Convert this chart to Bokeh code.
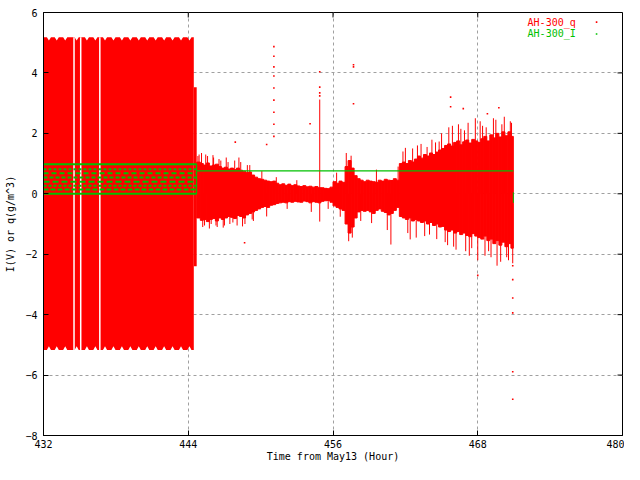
import numpy as np
from bokeh.plotting import figure
from bokeh.models import FixedTicker, Range1d, Label
from bokeh.embed import file_html
from bokeh.resources import INLINE

# ---------------- data ----------------
x_ticks = [432, 444, 456, 468, 480]
y_ticks = [-8, -6, -4, -2, 0, 2, 4, 6]

# AH-300_q : first period, saturated oscillation band
band_start = 432.0
band_end = 444.46
band_hi = 5.18
band_lo = -5.17
band_notch_hi = 5.07
band_notch_lo = -5.05
band_notch_t = [432.45, 433.1, 433.8, 434.75, 435.6, 436.3, 437.1, 437.8, 438.5,
                439.2, 439.9, 440.6, 441.3, 442.0, 442.7, 443.4, 444.1]
band_gap_t = [434.53, 435.085, 436.67]

# transition column
trans_t0 = [444.46]
trans_t1 = [444.70]
trans_hi = [3.53]
trans_lo = [-2.40]

# AH-300_q : core envelope after 444.7 h (bin start, hi, lo)
core_t = [444.70, 445.00, 445.25, 445.50, 445.75, 446.00, 446.25, 446.50, 446.75,
          447.00, 447.25, 447.50, 447.75, 448.00, 448.25, 448.50, 448.75, 449.00,
          449.25, 449.50, 449.75, 450.00, 450.25, 450.50, 450.75, 451.00, 451.25,
          451.50, 451.75, 452.00, 452.25, 452.50, 452.75, 453.00, 453.25, 453.50,
          453.75, 454.00, 454.25, 454.50, 454.75, 455.00, 455.25, 455.50, 455.75,
          456.00, 456.25, 456.50, 456.75, 457.00, 457.25, 457.50, 457.75, 458.00,
          458.25, 458.50, 458.75, 459.00, 459.25, 459.50, 459.75, 460.00, 460.25,
          460.50, 460.75, 461.00, 461.25, 461.50, 461.75, 462.00, 462.25, 462.50,
          462.75, 463.00, 463.25, 463.50, 463.75, 464.00, 464.25, 464.50, 464.75,
          465.00, 465.25, 465.50, 465.75, 466.00, 466.25, 466.50, 466.75, 467.00,
          467.25, 467.50, 467.75, 468.00, 468.25, 468.50, 468.75, 469.00, 469.25,
          469.50, 469.75, 470.00, 470.25, 470.50, 470.75]
core_hi = [1.05, 1.00, 0.95, 1.02, 0.92, 0.95, 0.98, 0.90, 0.85,
           0.88, 0.82, 0.85, 0.80, 0.85, 0.78, 0.75, 0.70, 0.72,
           0.62, 0.55, 0.50, 0.48, 0.45, 0.42, 0.40, 0.42, 0.35,
           0.30, 0.33, 0.28, 0.32, 0.27, 0.30, 0.26, 0.24, 0.27,
           0.23, 0.25, 0.22, 0.24, 0.20, 0.20, 0.18, 0.17, 0.22,
           0.40, 0.35, 0.42, 0.38, 0.90, 1.10, 0.85, 0.60, 0.50,
           0.45, 0.40, 0.45, 0.42, 0.40, 0.38, 0.45, 0.42, 0.48,
           0.45, 0.44, 0.50, 0.45, 1.00, 1.05, 1.00, 1.10, 1.05,
           1.15, 1.25, 1.18, 1.30, 1.25, 1.35, 1.30, 1.38, 1.45,
           1.50, 1.60, 1.65, 1.58, 1.70, 1.75, 1.62, 1.72, 1.78,
           1.68, 1.80, 1.75, 1.70, 1.82, 1.90, 1.75, 1.95, 1.85,
           2.00, 1.88, 2.05, 1.92, 2.05, 1.90]
core_lo = [-0.80, -0.88, -0.85, -0.92, -0.85, -0.82, -0.90, -0.80, -0.85,
           -0.80, -0.75, -0.78, -0.82, -0.72, -0.75, -0.80, -0.70, -0.65,
           -0.60, -0.55, -0.50, -0.45, -0.42, -0.45, -0.38, -0.36, -0.32,
           -0.30, -0.28, -0.30, -0.26, -0.28, -0.25, -0.27, -0.28, -0.24,
           -0.26, -0.30, -0.26, -0.28, -0.30, -0.25, -0.23, -0.22, -0.28,
           -0.40, -0.45, -0.50, -0.55, -1.00, -1.30, -1.10, -0.80, -0.60,
           -0.55, -0.58, -0.55, -0.60, -0.65, -0.55, -0.50, -0.58, -0.62,
           -0.70, -0.65, -0.55, -0.45, -0.75, -0.80, -0.85, -0.80, -0.90,
           -0.85, -0.90, -0.95, -0.90, -1.00, -0.95, -1.05, -1.00, -1.10,
           -1.08, -1.20, -1.25, -1.20, -1.30, -1.25, -1.35, -1.30, -1.38,
           -1.42, -1.32, -1.40, -1.45, -1.50, -1.40, -1.55, -1.50, -1.65,
           -1.55, -1.70, -1.60, -1.75, -1.65, -1.80]
core_end = 470.95

# AH-300_q : isolated spikes (time, tip value)
spike_t = [444.80, 444.90, 445.10, 445.20, 445.35, 445.45, 445.60, 445.75, 445.90,
           446.05, 446.10, 446.30, 446.40, 446.55, 446.70, 446.90, 447.00, 447.15,
           447.30, 447.45, 447.70, 447.85, 448.05, 448.20, 448.35, 448.50, 448.70,
           448.90, 449.10, 449.30, 449.40, 450.10, 450.50, 451.30, 452.20, 453.00,
           454.20, 454.90, 454.90, 455.60, 456.30, 456.60, 457.10, 457.30, 457.50,
           457.60, 458.30, 459.20, 459.60, 460.50, 460.80, 461.40, 461.80, 462.00,
           462.20, 462.40, 462.60, 462.90, 463.00, 463.30, 463.60, 463.80, 464.00,
           464.20, 464.50, 464.60, 464.80, 465.00, 465.30, 465.50, 465.60, 465.90,
           466.00, 466.20, 466.40, 466.60, 466.90, 467.00, 467.20, 467.30, 467.50,
           467.80, 468.00, 468.20, 468.40, 468.60, 468.70, 468.90, 469.10, 469.30,
           469.50, 469.60, 469.90, 470.00, 470.20, 470.40, 470.55, 470.70, 470.80,
           470.90]
spike_v = [1.25, 1.30, 1.35, -1.10, -1.05, 1.30, 1.25, -1.15, -1.00,
           1.28, 1.20, -1.05, -1.10, 1.15, 1.10, -1.12, -1.05, 1.20,
           1.05, -1.00, -0.95, 1.10, -1.05, 1.20, 1.05, -1.08, -1.00,
           0.95, 0.95, -0.85, -0.90, 0.75, -0.75, 0.55, -0.50, 0.45,
           -0.60, 3.12, -0.92, -0.50, 0.70, -0.76, 1.35, -1.57, 1.26,
           -1.45, -0.90, -0.97, 0.80, -1.20, -1.68, 0.90, 1.40, 1.52,
           -1.30, -1.51, 1.50, -1.45, 1.60, 1.65, -1.40, 1.55, -1.35,
           1.79, 1.70, -1.50, 1.73, 2.00, -1.60, -1.70, 2.20, 2.25,
           -1.75, -1.85, 2.30, 2.15, 2.10, -1.90, 2.35, -2.05, -1.80,
           2.50, -2.20, 2.40, 2.25, -2.05, 2.20, -1.90, -2.10, 2.50,
           2.45, -2.38, -2.25, 2.30, 2.55, -2.10, -2.20, 2.40, 2.35,
           -2.30]

# AH-300_q : scattered outlier points
dot_t = [451.10, 451.10, 451.10, 451.10, 451.10, 451.10, 451.10, 451.10, 451.10,
         454.90, 454.90, 454.90, 454.90, 457.70, 457.70, 457.70, 454.10, 448.67,
         447.90, 450.50, 465.75, 465.75, 466.80, 469.75, 468.80, 468.00,
         470.90, 470.90, 470.90, 470.90, 470.90, 470.90]
dot_v = [4.87, 4.55, 4.20, 3.90, 3.50, 3.10, 2.70, 2.30, 1.90,
         4.04, 3.53, 3.34, 3.24, 4.27, 4.20, 2.98, 2.32, -1.62,
         1.71, 1.63, 3.20, 2.88, 2.82, 2.85, 2.65, -2.70,
         -2.38, -2.84, -3.45, -3.94, -5.89, -6.80]

# AH-300_I : discrete levels during first period, then constant
i_levels = [0.0, 0.14, 0.27, 0.40, 0.54, 0.68, 0.81, 0.98]
i_t0 = 432.0
i_t1 = 444.70
i_const_t = [444.70, 470.95]
i_const_v = [0.76, 0.76]
i_tail_t = [470.95, 470.95]
i_tail_v = [0.05, -0.30]

RED = "#ff0000"
GREEN = "#00c000"
FONT = "DejaVu Sans Mono"

# ---------------- figure ----------------
X0, X1 = 432, 480
Y0, Y1 = -8, 6
p = figure(width=624, height=464, output_backend="svg", toolbar_location=None,
           x_range=Range1d(X0, X1), y_range=Range1d(Y0, Y1),
           min_border_left=43, min_border_right=2, min_border_top=12,
           min_border_bottom=27, background_fill_color="white",
           border_fill_color="white")
p.outline_line_color = "black"
p.outline_line_width = 1

xt = FixedTicker(ticks=x_ticks)
yt = FixedTicker(ticks=y_ticks)
for ax in p.xaxis + p.yaxis:
    ax.major_tick_in = 5
    ax.major_tick_out = 0
    ax.minor_tick_in = 0
    ax.minor_tick_out = 0
    ax.axis_line_color = "black"
    ax.major_label_text_font = FONT
    ax.major_label_text_font_size = "10px"
    ax.major_label_text_color = "black"
    ax.axis_label_text_font = FONT
    ax.axis_label_text_font_size = "10px"
    ax.axis_label_text_font_style = "normal"
    ax.axis_label_text_color = "black"
p.xaxis.ticker = xt
p.yaxis.ticker = yt
p.xaxis.major_label_standoff = 4
p.yaxis.major_label_standoff = 6
p.xaxis.axis_label = "Time from May13 (Hour)"
p.yaxis.axis_label = "I(V) or q(g/m^3)"
p.xaxis.axis_label_standoff = 0
p.yaxis.axis_label_standoff = 6

p.xgrid.ticker = xt
p.ygrid.ticker = yt
for g in (p.xgrid, p.ygrid):
    g.grid_line_color = "#a0a0a0"
    g.grid_line_dash = "3 3"
    g.grid_line_width = 1

# mirror ticks (top and right borders, pointing inward)
frame_w, frame_h = 579.0, 425.0
tick_dx = 5.0 * (X1 - X0) / frame_w
tick_dy = 5.0 * (Y1 - Y0) / frame_h
p.segment(x0=x_ticks, y0=[Y1] * len(x_ticks), x1=x_ticks,
          y1=[Y1 - tick_dy] * len(x_ticks), line_color="black", line_width=1)
p.segment(x0=[X1] * len(y_ticks), y0=y_ticks, x1=[X1 - tick_dx] * len(y_ticks),
          y1=y_ticks, line_color="black", line_width=1)

# ---- red band (first period) ----
top_x = [band_start]
top_y = [band_hi]
for t in band_notch_t:
    top_x += [t - 0.17, t, t + 0.17]
    top_y += [band_hi, band_notch_hi, band_hi]
top_x.append(band_end)
top_y.append(band_hi)
bot_x = [band_end]
bot_y = [band_lo]
for t in reversed(band_notch_t):
    bot_x += [t + 0.17, t, t - 0.17]
    bot_y += [band_lo, band_notch_lo, band_lo]
bot_x.append(band_start)
bot_y.append(band_lo)
p.patch(top_x + bot_x, top_y + bot_y, fill_color=RED, line_color=None)
p.segment(x0=band_gap_t, y0=[band_lo] * len(band_gap_t),
          x1=band_gap_t, y1=[band_hi] * len(band_gap_t),
          line_color="white", line_width=1.5)

# ---- transition ----
p.quad(left=trans_t0, right=trans_t1, bottom=trans_lo, top=trans_hi,
       fill_color=RED, line_color=None)

# ---- core envelope ----
core_r = core_t[1:] + [core_end]
p.quad(left=core_t, right=core_r, bottom=core_lo, top=core_hi,
       fill_color=RED, line_color=RED, line_width=1)

# ---- spikes ----
p.segment(x0=spike_t, y0=[0] * len(spike_t), x1=spike_t, y1=spike_v,
          line_color=RED, line_width=1)

# ---- outliers ----
p.scatter(dot_t, dot_v, marker="square", size=1.6, fill_color=RED, line_color=None)

# ---- green I ----
dashes = ["solid", "5 2", "3 2", "6 3", "4 2", "5 3", "3 2", "solid"]
for lv, ds in zip(i_levels, dashes):
    p.line([i_t0, i_t1], [lv, lv], line_color=GREEN, line_width=2, line_dash=ds)
p.line([i_t1, i_t1], [i_levels[0], i_levels[-1]], line_color=GREEN, line_width=1)
p.line(i_const_t, i_const_v, line_color=GREEN, line_width=1.3)
p.line(i_tail_t, i_tail_v, line_color=GREEN, line_width=1)

# ---- key (top right) ----
key_x = 472.13
key_dot_x = 477.85
key_y = [5.68, 5.29]
for txt, col, yy in (("AH-300_q", RED, key_y[0]), ("AH-300_I", GREEN, key_y[1])):
    p.add_layout(Label(x=key_x, y=yy, text=txt, text_color=col, text_font=FONT,
                       text_font_size="10px", text_baseline="middle",
                       text_align="left"))
p.scatter([key_dot_x, key_dot_x], key_y, marker="square", size=1.6,
          fill_color=[RED, GREEN], line_color=None)

open("out.html", "w").write(file_html(p, INLINE))
